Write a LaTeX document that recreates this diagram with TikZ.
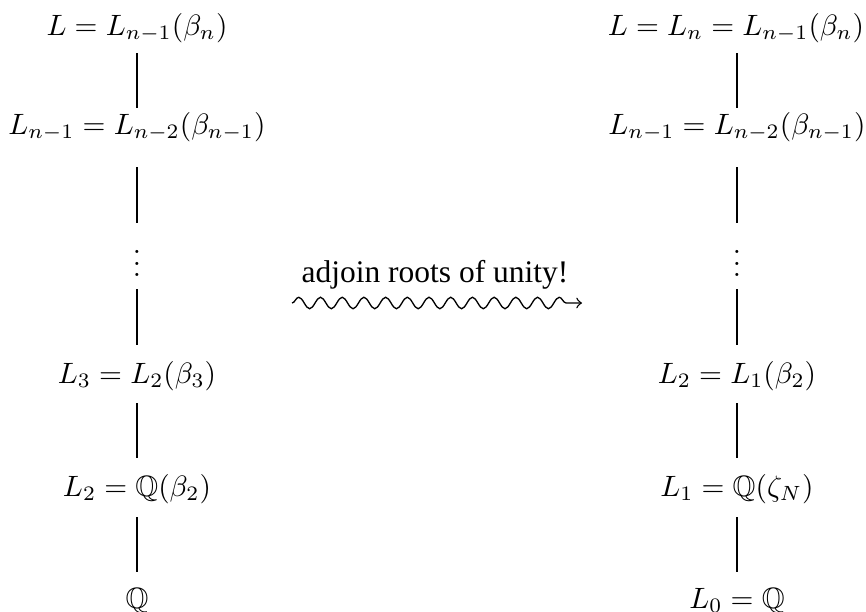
\documentclass[tikz,border=0pt]{standalone}
\usepackage{amssymb}
\usepackage{fontspec}
\newfontfamily\tnr{Liberation Serif}
\usetikzlibrary{calc,decorations.pathmorphing}
\newcommand\tightvdots{\vbox{\baselineskip4pt\lineskiplimit0pt\hbox{.}\hbox{.}\hbox{.}}}
\tikzset{
  fld/.style={anchor=base, inner sep=0pt},
  ext/.style={line width=0.45pt},
  squig/.style={->, line width=0.45pt, decorate,
    decoration={snake, amplitude=1.95pt, segment length=7.38pt, post length=4pt}},
  lbl/.style={anchor=base, inner sep=0pt, font=\tnr\fontsize{10.7}{12}\selectfont}
}
\begin{document}
\begin{tikzpicture}[x=0.34pt, y=-0.34pt]
\useasboundingbox (0,0) rectangle (866,612);
% left tower
\node[fld] (l1) at (137,35)  {$L = L_{n-1}(\beta_n)$};
\node[fld] (l2) at (137,134) {$L_{n-1} = L_{n-2}(\beta_{n-1})$};
\node[fld] (l3) at (137,277) {\tightvdots};
\node[fld] (l4) at (137,383) {$L_3 = L_2(\beta_3)$};
\node[fld] (l5) at (137,496) {$L_2 = \mathbb{Q}(\beta_2)$};
\node[fld] (l6) at (137,608) {$\mathbb{Q}$};
% right tower
\node[fld] (r1) at (736,35)  {$L = L_n = L_{n-1}(\beta_n)$};
\node[fld] (r2) at (737,134) {$L_{n-1} = L_{n-2}(\beta_{n-1})$};
\node[fld] (r3) at (737,277) {\tightvdots};
\node[fld] (r4) at (737,383) {$L_2 = L_1(\beta_2)$};
\node[fld] (r5) at (737,496) {$L_1 = \mathbb{Q}(\zeta_N)$};
\node[fld] (r6) at (737,608) {$L_0 = \mathbb{Q}$};
% connectors
\foreach \c in {l,r}{
  \draw[ext] ($(\c1.base -| \c2.base)+(0,18)$) -- ($(\c2.base)+(0,-26)$);
  \draw[ext] ($(\c2.base)+(0,33)$) -- ($(\c3.base)+(0,-54)$);
  \draw[ext] ($(\c3.base)+(0,12)$) -- ($(\c4.base)+(0,-38)$);
  \draw[ext] ($(\c4.base)+(0,20)$) -- ($(\c5.base)+(0,-38)$);
  \draw[ext] ($(\c5.base)+(0,21)$) -- ($(\c6.base)+(0,-36)$);
}
% middle arrow
\node[lbl] (t) at (435,282) {adjoin roots of unity!};
\coordinate (ws) at (292,303);
\coordinate (we) at (582,303);
\draw[squig] (ws) -- (we);
\end{tikzpicture}
\end{document}
